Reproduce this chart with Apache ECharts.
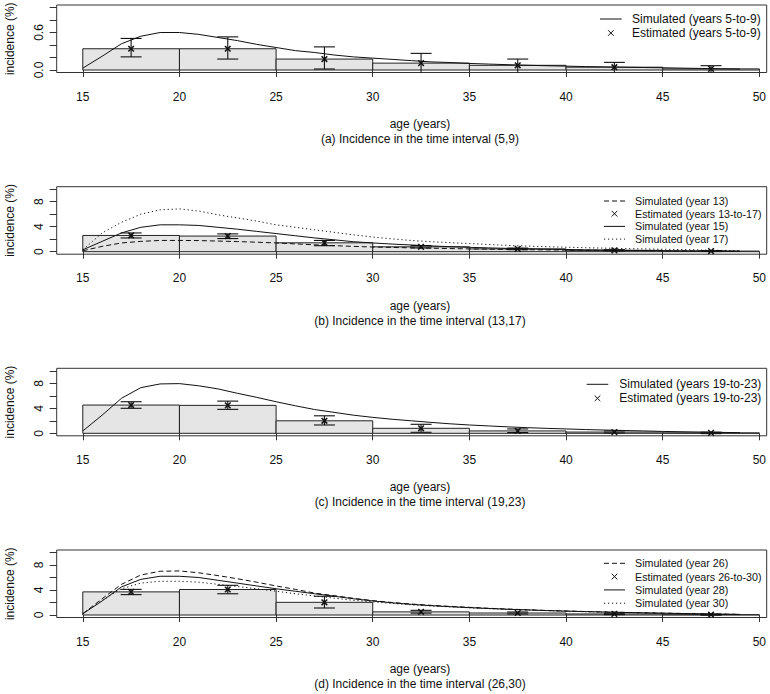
<!DOCTYPE html>
<html><head><meta charset="utf-8">
<script src="https://cdn.jsdelivr.net/npm/echarts@6/dist/echarts.min.js"></script>
<style>html,body{margin:0;padding:0;background:#fff}#c{width:770px;height:694px}</style>
</head><body><div id="c"></div>
<script>
// ---------- data ----------
const ages = [15,16,17,18,19,20,21,22,23,24,25,26,27,28,29,30,31,32,33,34,35,36,37,38,39,40,41,42,43,44,45,46,47,48,49];
const bins = [15,20,25,30,35,40,45];
const mids = [17.5,22.5,27.5,32.5,37.5,42.5,47.5];
const xTicks = [15,20,25,30,35,40,45,50];
const yTicksA = [0,0.2,0.4,0.6,0.8,1.0];
const yLabelsA = [0,0.6];
const yTicksB = [0,2,4,6,8,10];
const yLabelsB = [0,4,8];

// panel (a) years 5-to-9
const simA = [0.03,0.22,0.42,0.54,0.60,0.60,0.57,0.52,0.47,0.41, 0.36,0.31,0.28,0.24,0.21,0.19,0.17,0.15,0.13,0.12, 0.105,0.095,0.085,0.076,0.068,0.062,0.055,0.05,0.045,0.04, 0.036,0.03,0.025,0.02,0.015];
const estA = [0.34,0.34,0.175,0.11,0.075,0.045,0.018];
const loA  = [0.21,0.175,0.016,-0.06,-0.06,-0.06,-0.06];
const hiA  = [0.505,0.53,0.37,0.266,0.175,0.122,0.069];

// panel (b) years 13-to-17
const simB13 = [0.15,0.85,1.4,1.65,1.8,1.8,1.78,1.7,1.62,1.52, 1.4,1.25,1.1,0.97,0.85,0.75,0.68,0.62,0.56,0.5, 0.45,0.4,0.36,0.32,0.29,0.26,0.23,0.2,0.18,0.16, 0.14,0.12,0.1,0.08,0.06];
const simB15 = [0.3,1.65,3.0,3.9,4.3,4.3,4.2,3.9,3.6,3.25, 2.9,2.55,2.2,1.9,1.6,1.4,1.22,1.07,0.93,0.8, 0.7,0.61,0.53,0.46,0.4,0.35,0.3,0.26,0.22,0.19, 0.16,0.13,0.11,0.09,0.07];
const simB17 = [0.3,3.0,4.7,6.0,6.7,6.85,6.5,5.9,5.4,4.9, 4.3,3.9,3.5,3.1,2.7,2.35,2.05,1.8,1.6,1.45, 1.3,1.15,1.0,0.9,0.8,0.72,0.64,0.57,0.5,0.45, 0.4,0.34,0.28,0.22,0.15];
const estB = [2.6,2.5,1.42,0.78,0.45,0.22,0.1];
const loB  = [2.2,2.1,0.96,0.6,0.32,0.12,0.03];
const hiB  = [3.0,2.85,1.8,0.98,0.58,0.32,0.17];

// panel (c) years 19-to-23
const simC = [0.37,2.9,5.6,7.3,7.9,7.95,7.6,7.1,6.4,5.75, 5.05,4.4,3.8,3.35,2.9,2.55,2.25,2.0,1.75,1.52, 1.33,1.18,1.03,0.9,0.79,0.7,0.6,0.52,0.45,0.38, 0.3,0.25,0.2,0.15,0.1];
const estC = [4.52,4.47,2.0,0.8,0.38,0.2,0.07];
const loC  = [4.0,3.83,1.33,0.16,0.12,0.05,-0.05];
const hiC  = [5.05,5.15,2.8,1.44,0.7,0.38,0.18];

// panel (d) years 26-to-30
const simD26 = [0.2,2.6,4.9,6.4,7.0,7.05,6.75,6.3,5.8,5.25, 4.65,4.1,3.5,3.1,2.67,2.3,2.0,1.75,1.55,1.38, 1.23,1.08,0.95,0.84,0.73,0.64,0.56,0.49,0.42,0.36, 0.3,0.25,0.2,0.15,0.1];
const simD28 = [0.2,2.25,4.5,5.7,6.2,6.2,6.0,5.55,5.1,4.65, 4.2,3.8,3.4,3.0,2.6,2.25,1.95,1.7,1.5,1.33, 1.18,1.04,0.92,0.81,0.71,0.62,0.54,0.47,0.41,0.35, 0.29,0.24,0.19,0.14,0.09];
const simD30 = [0.2,2.35,4.2,5.1,5.4,5.4,5.25,4.9,4.55,4.2, 3.8,3.4,3.05,2.7,2.35,2.1,1.85,1.63,1.45,1.3, 1.15,1.02,0.9,0.8,0.7,0.61,0.53,0.46,0.4,0.34, 0.28,0.23,0.18,0.13,0.09];
const estD = [3.7,4.08,2.03,0.5,0.32,0.17,0.05];
const loD  = [3.26,3.4,1.12,0.3,0.17,0.06,-0.03];
const hiD  = [4.1,4.75,3.0,0.75,0.48,0.28,0.13];

const titles = ['(a) Incidence in the time interval (5,9)','(b) Incidence in the time interval (13,17)','(c) Incidence in the time interval (19,23)','(d) Incidence in the time interval (26,30)'];

// ---------- styles ----------
const FONT = '"Liberation Sans", Arial, Helvetica, sans-serif';
const INK = '#111';
const SOLID = 'solid', DASH = [5,3], DOT = [1.2,2.8];

const panels = [
  {est:estA, lo:loA, hi:hiA, lines:[{d:simA,t:SOLID}], ymin:-0.04, ymax:1.04, ticks:yTicksA, labels:yLabelsA, fmt:v=>v.toFixed(1),
   legend:{fs:12, x0:600, x1:621.7, tx:632, rows:[19,33], items:[{k:'line',t:SOLID,s:'Simulated (years 5-to-9)'},{k:'x',s:'Estimated (years 5-to-9)'}]}},
  {est:estB, lo:loB, hi:hiB, lines:[{d:simB13,t:DASH},{d:simB15,t:SOLID},{d:simB17,t:DOT}], ymin:-0.4, ymax:10.4, ticks:yTicksB, labels:yLabelsB, fmt:v=>String(v),
   legend:{fs:10.7, x0:604, x1:625, tx:635, rows:[201,213.7,226.4,239.1], items:[{k:'line',t:DASH,s:'Simulated (year 13)'},{k:'x',s:'Estimated (years 13-to-17)'},{k:'line',t:SOLID,s:'Simulated (year 15)'},{k:'line',t:DOT,s:'Simulated (year 17)'}]}},
  {est:estC, lo:loC, hi:hiC, lines:[{d:simC,t:SOLID}], ymin:-0.4, ymax:10.4, ticks:yTicksB, labels:yLabelsB, fmt:v=>String(v),
   legend:{fs:12, x0:586.7, x1:608.3, tx:619.3, rows:[384.3,398.3], items:[{k:'line',t:SOLID,s:'Simulated (years 19-to-23)'},{k:'x',s:'Estimated (years 19-to-23)'}]}},
  {est:estD, lo:loD, hi:hiD, lines:[{d:simD26,t:DASH},{d:simD28,t:SOLID},{d:simD30,t:DOT}], ymin:-0.4, ymax:10.4, ticks:yTicksB, labels:yLabelsB, fmt:v=>String(v),
   legend:{fs:10.7, x0:604, x1:625, tx:635, rows:[563.3,576.6,589.9,603.2], items:[{k:'line',t:DASH,s:'Simulated (year 26)'},{k:'x',s:'Estimated (years 26-to-30)'},{k:'line',t:SOLID,s:'Simulated (year 28)'},{k:'line',t:DOT,s:'Simulated (year 30)'}]}}
];

const GL = 56.7, GW = 710, GH = 67.5;
const tops = [5, 186.7, 368.3, 550];

function renderBar(params, api){
  const p0 = api.coord([api.value(0), api.value(2)]);
  const p1 = api.coord([api.value(1), 0]);
  return {type:'rect', shape:{x:p0[0], y:p0[1], width:p1[0]-p0[0], height:p1[1]-p0[1]},
          style:{fill:'#e5e5e5', stroke:'#222', lineWidth:1}};
}
function renderErr(params, api){
  const x = api.value(0);
  const pLo = api.coord([x, api.value(1)]), pE = api.coord([x, api.value(2)]), pHi = api.coord([x, api.value(3)]);
  const bottom = params.coordSys.y + params.coordSys.height;
  const st = {stroke:INK, lineWidth:1.1};
  const cw = 10.5, m = 2.8;
  const loY = Math.min(pLo[1], bottom);
  const ch = [
    {type:'line', shape:{x1:pE[0], y1:loY, x2:pE[0], y2:pHi[1]}, style:st},
    {type:'line', shape:{x1:pHi[0]-cw, y1:pHi[1], x2:pHi[0]+cw, y2:pHi[1]}, style:st},
    {type:'line', shape:{x1:pE[0]-m, y1:pE[1]-m, x2:pE[0]+m, y2:pE[1]+m}, style:{stroke:INK, lineWidth:1.5}},
    {type:'line', shape:{x1:pE[0]-m, y1:pE[1]+m, x2:pE[0]+m, y2:pE[1]-m}, style:{stroke:INK, lineWidth:1.5}}
  ];
  if (pLo[1] <= bottom) ch.push({type:'line', shape:{x1:pLo[0]-cw, y1:pLo[1], x2:pLo[0]+cw, y2:pLo[1]}, style:st});
  return {type:'group', children:ch};
}

const grid = [], xAxis = [], yAxis = [], series = [], graphic = [];
const txt = (s, x, y, fs, align) => ({type:'text', x:x, y:y, silent:true,
  style:{text:s, font:fs + 'px ' + FONT, fill:INK, align:align || 'left', verticalAlign:'middle'}});

panels.forEach((p, i) => {
  grid.push({left:GL, top:tops[i], width:GW, height:GH, show:true, borderColor:'#333', borderWidth:1, backgroundColor:'transparent', containLabel:false, outerBoundsMode:'none'});
  xAxis.push({gridIndex:i, type:'value', min:13.65, max:50.38,
    axisLine:{show:false}, splitLine:{show:false},
    axisTick:{show:true, inside:false, length:7, customValues:xTicks, lineStyle:{color:'#333'}},
    axisLabel:{show:true, customValues:xTicks, margin:18, fontSize:12, fontFamily:FONT, color:INK}});
  yAxis.push({gridIndex:i, type:'value', min:p.ymin, max:p.ymax,
    axisLine:{show:false}, splitLine:{show:false},
    axisTick:{show:true, inside:false, length:7, customValues:p.ticks, lineStyle:{color:'#333'}},
    axisLabel:{show:true, customValues:p.labels, rotate:90, margin:12, fontSize:12, fontFamily:FONT, color:INK, formatter:p.fmt}});
  series.push({type:'custom', xAxisIndex:i, yAxisIndex:i, silent:true, z:1,
    data: bins.map((b, j) => [b, b + 5, p.est[j]]), renderItem:renderBar, encode:{x:[0,1], y:2}});
  p.lines.forEach(l => series.push({type:'line', xAxisIndex:i, yAxisIndex:i, silent:true, z:3, symbol:'none', showSymbol:false,
    data: ages.map((a, j) => [a, l.d[j]]), lineStyle:{color:INK, width:1, type:l.t}}));
  series.push({type:'custom', xAxisIndex:i, yAxisIndex:i, silent:true, z:4,
    data: mids.map((m, j) => [m, p.lo[j], p.est[j], p.hi[j]]), renderItem:renderErr, encode:{x:0, y:[1,2,3]}});

  const bot = tops[i] + GH;
  graphic.push(txt('age (years)', 420, bot + 51.5, 12, 'center'));
  graphic.push(txt(titles[i], 420, bot + 66.5, 12, 'center'));
  graphic.push({type:'text', x:10, y:tops[i] + GH / 2, rotation:Math.PI / 2, silent:true,
    style:{text:'incidence (%)', font:'12px ' + FONT, fill:INK, align:'center', verticalAlign:'middle'}});
  const L = p.legend;
  L.items.forEach((it, r) => {
    const y = L.rows[r];
    if (it.k === 'line') {
      graphic.push({type:'line', silent:true, shape:{x1:L.x0, y1:y, x2:L.x1, y2:y},
        style:{stroke:INK, lineWidth:1, lineDash: it.t === SOLID ? null : it.t}});
    } else {
      const cx = (L.x0 + L.x1) / 2, m = 2.8;
      graphic.push({type:'line', silent:true, shape:{x1:cx-m, y1:y-m, x2:cx+m, y2:y+m}, style:{stroke:INK, lineWidth:1}});
      graphic.push({type:'line', silent:true, shape:{x1:cx-m, y1:y+m, x2:cx+m, y2:y-m}, style:{stroke:INK, lineWidth:1}});
    }
    graphic.push(txt(it.s, L.tx, y, L.fs));
  });
});

const chart = echarts.init(document.getElementById('c'), null, {renderer:'svg'});
chart.setOption({animation:false, backgroundColor:'#fff', grid, xAxis, yAxis, series, graphic});
</script></body></html>
